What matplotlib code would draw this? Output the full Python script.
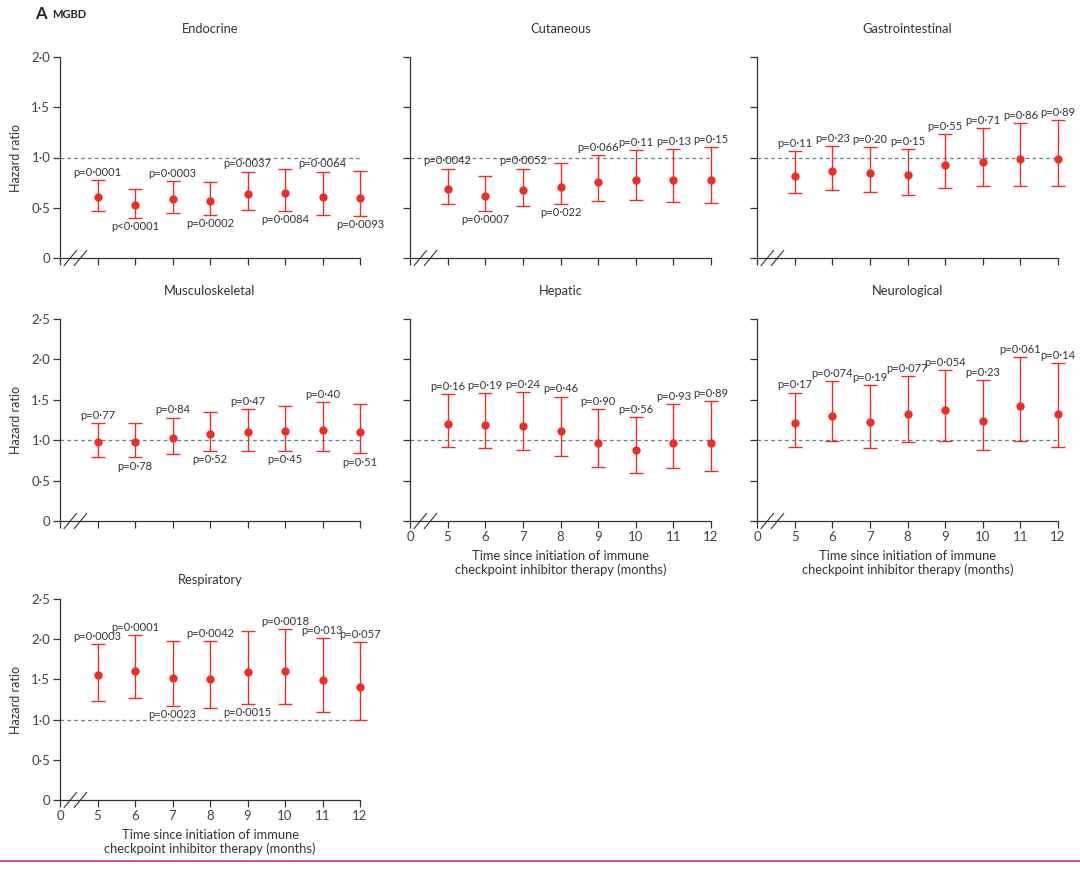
import matplotlib
matplotlib.use('Agg')
import matplotlib.pyplot as plt
from matplotlib.transforms import blended_transform_factory
from matplotlib.lines import Line2D

plt.rcParams['font.family'] = ['Lato', 'DejaVu Sans']

#Data (hazard ratio, 95% CI, p values)
months = [5, 6, 7, 8, 9, 10, 11, 12]

endocrine_hr = [0.61, 0.53, 0.59, 0.57, 0.64, 0.65, 0.61, 0.60]
endocrine_lo = [0.47, 0.40, 0.45, 0.43, 0.48, 0.47, 0.43, 0.42]
endocrine_hi = [0.78, 0.69, 0.77, 0.76, 0.86, 0.89, 0.86, 0.87]
endocrine_p = ['p=0·0001', 'p<0·0001', 'p=0·0003', 'p=0·0002', 'p=0·0037', 'p=0·0084', 'p=0·0064', 'p=0·0093']

cutaneous_hr = [0.69, 0.62, 0.68, 0.71, 0.76, 0.78, 0.78, 0.78]
cutaneous_lo = [0.54, 0.47, 0.52, 0.54, 0.57, 0.58, 0.56, 0.55]
cutaneous_hi = [0.89, 0.82, 0.89, 0.95, 1.02, 1.07, 1.08, 1.10]
cutaneous_p = ['p=0·0042', 'p=0·0007', 'p=0·0052', 'p=0·022', 'p=0·066', 'p=0·11', 'p=0·13', 'p=0·15']

gastro_hr = [0.82, 0.87, 0.85, 0.83, 0.93, 0.96, 0.99, 0.99]
gastro_lo = [0.65, 0.68, 0.66, 0.63, 0.70, 0.72, 0.72, 0.72]
gastro_hi = [1.06, 1.11, 1.10, 1.08, 1.23, 1.29, 1.34, 1.37]
gastro_p = ['p=0·11', 'p=0·23', 'p=0·20', 'p=0·15', 'p=0·55', 'p=0·71', 'p=0·86', 'p=0·89']

musculo_hr = [0.98, 0.98, 1.03, 1.08, 1.10, 1.11, 1.13, 1.10]
musculo_lo = [0.79, 0.79, 0.83, 0.87, 0.87, 0.87, 0.87, 0.84]
musculo_hi = [1.21, 1.21, 1.28, 1.35, 1.39, 1.42, 1.47, 1.45]
musculo_p = ['p=0·77', 'p=0·78', 'p=0·84', 'p=0·52', 'p=0·47', 'p=0·45', 'p=0·40', 'p=0·51']

hepatic_hr = [1.20, 1.19, 1.18, 1.12, 0.97, 0.88, 0.97, 0.96]
hepatic_lo = [0.92, 0.90, 0.88, 0.81, 0.67, 0.60, 0.66, 0.62]
hepatic_hi = [1.57, 1.58, 1.60, 1.54, 1.38, 1.29, 1.45, 1.48]
hepatic_p = ['p=0·16', 'p=0·19', 'p=0·24', 'p=0·46', 'p=0·90', 'p=0·56', 'p=0·93', 'p=0·89']

neuro_hr = [1.21, 1.30, 1.23, 1.32, 1.37, 1.24, 1.42, 1.33]
neuro_lo = [0.92, 0.99, 0.90, 0.98, 0.99, 0.88, 0.99, 0.91]
neuro_hi = [1.59, 1.73, 1.68, 1.79, 1.87, 1.75, 2.03, 1.96]
neuro_p = ['p=0·17', 'p=0·074', 'p=0·19', 'p=0·077', 'p=0·054', 'p=0·23', 'p=0·061', 'p=0·14']

resp_hr = [1.55, 1.61, 1.52, 1.51, 1.59, 1.60, 1.49, 1.40]
resp_lo = [1.23, 1.27, 1.17, 1.15, 1.20, 1.20, 1.10, 1.00]
resp_hi = [1.94, 2.05, 1.98, 1.98, 2.10, 2.13, 2.02, 1.97]
resp_p = ['p=0·0003', 'p=0·0001', 'p=0·0023', 'p=0·0042', 'p=0·0015', 'p=0·0018', 'p=0·013', 'p=0·057']

#Layout
RED = '#e8302a'
DARK = '#333333'
XLABEL = 'Time since initiation of immune\ncheckpoint inhibitor therapy (months)'
W, H = 1080, 869


def px_axes(fig, left, top, right, bottom):
    return fig.add_axes([left / W, 1 - bottom / H, (right - left) / W, (bottom - top) / H])


def draw_panel(ax, title, hr, lo, hi, pvals, sides, ymax, ylabels, xlabels, title_pad):
    yerr = [[h - l for h, l in zip(hr, lo)], [u - h for h, u in zip(hr, hi)]]
    ax.errorbar(months, hr, yerr=yerr, fmt='o', color=RED, ecolor=RED, markersize=5,
                elinewidth=1.0, capsize=5, capthick=1.0, clip_on=False, zorder=3)
    ax.axhline(1.0, color='#5f8388', lw=0.9, ls=(0, (3, 2.5)), zorder=1)
    for m, l, u, p, s in zip(months, lo, hi, pvals, sides):
        if s == 'up':
            ax.annotate(p, (m, u), xytext=(0, 1.5), textcoords='offset points',
                        ha='center', va='bottom', fontsize=8, color=DARK)
        else:
            ax.annotate(p, (m, l), xytext=(0, -2.5), textcoords='offset points',
                        ha='center', va='top', fontsize=8, color=DARK)

    ax.set_xlim(4, 12)
    ax.set_ylim(0, ymax)
    ax.set_xticks([4] + months)
    yt = [i * 0.5 for i in range(int(ymax / 0.5) + 1)]
    ax.set_yticks(yt)
    if ylabels:
        ax.set_yticklabels(['0' if v == 0 else f'{v:.1f}'.replace('.', '·') for v in yt])
        ax.set_ylabel('Hazard ratio', fontsize=9, color=DARK, labelpad=7)
    else:
        ax.set_yticklabels([])
    if xlabels:
        ax.set_xticklabels(['0'] + [str(m) for m in months])
        ax.set_xlabel(XLABEL, fontsize=9.3, color=DARK, labelpad=5)
    else:
        ax.set_xticklabels([])
    ax.tick_params(direction='out', length=5, width=0.9, color=DARK, labelcolor='#444444',
                   labelsize=9.5, pad=2)
    for sp in ['top', 'right']:
        ax.spines[sp].set_visible(False)
    for sp in ['left', 'bottom']:
        ax.spines[sp].set_color(DARK)
        ax.spines[sp].set_linewidth(0.9)
    ax.set_title(title, fontsize=9.3, color=DARK, pad=title_pad)

    # broken axis marks
    tr = blended_transform_factory(ax.transData, ax.transAxes)
    dy = 7.5 / (ax.get_position().height * H)
    for x0 in (4.11, 4.38):
        ax.plot([x0, x0 + 0.33], [-dy, dy], color=DARK, lw=0.8, transform=tr, clip_on=False)
    ax.patch.set_alpha(0)


fig = plt.figure(figsize=(10.8, 8.69), dpi=100)

cols = [(60, 360), (410, 711), (757, 1058)]
rows = [(57, 258), (319, 521), (599, 800)]

panels = [
    ('Endocrine', endocrine_hr, endocrine_lo, endocrine_hi, endocrine_p,
     ['up', 'down', 'up', 'down', 'up', 'down', 'up', 'down'], 0, 0, 2.0, True, False),
    ('Cutaneous', cutaneous_hr, cutaneous_lo, cutaneous_hi, cutaneous_p,
     ['up', 'down', 'up', 'down', 'up', 'up', 'up', 'up'], 0, 1, 2.0, False, False),
    ('Gastrointestinal', gastro_hr, gastro_lo, gastro_hi, gastro_p,
     ['up'] * 8, 0, 2, 2.0, False, False),
    ('Musculoskeletal', musculo_hr, musculo_lo, musculo_hi, musculo_p,
     ['up', 'down', 'up', 'down', 'up', 'down', 'up', 'down'], 1, 0, 2.5, True, False),
    ('Hepatic', hepatic_hr, hepatic_lo, hepatic_hi, hepatic_p,
     ['up'] * 8, 1, 1, 2.5, False, True),
    ('Neurological', neuro_hr, neuro_lo, neuro_hi, neuro_p,
     ['up'] * 8, 1, 2, 2.5, False, True),
    ('Respiratory', resp_hr, resp_lo, resp_hi, resp_p,
     ['up', 'up', 'down', 'up', 'down', 'up', 'up', 'up'], 2, 0, 2.5, True, True),
]
title_pads = [17, 17, 11]

for title, hr, lo, hi, pv, sides, r, c, ymax, yl, xl in panels:
    ax = px_axes(fig, cols[c][0], rows[r][0], cols[c][1], rows[r][1])
    draw_panel(ax, title, hr, lo, hi, pv, sides, ymax, yl, xl, title_pads[r])

fig.text(35 / W, 1 - 14 / H, 'A', fontsize=12, fontweight='bold', color='#222222', va='center')
fig.text(52 / W, 1 - 15 / H, 'MGBD', fontsize=8, fontweight='bold', color='#222222', va='center')
fig.add_artist(Line2D([0, 1], [1 - 861 / H, 1 - 861 / H], color='#d0386a', lw=1.2,
                      transform=fig.transFigure))

fig.savefig('out.png', dpi=100)
